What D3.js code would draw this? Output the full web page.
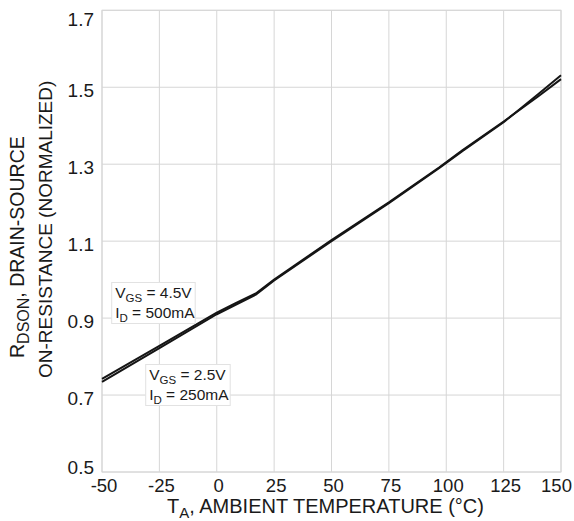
<!DOCTYPE html>
<html>
<head>
<meta charset="utf-8">
<script src="https://cdn.jsdelivr.net/npm/d3@7"></script>
<style>
  html, body { margin: 0; padding: 0; background: #fff; }
  svg { display: block; font-family: "Liberation Sans", Arial, Helvetica, sans-serif; }
</style>
</head>
<body>
<svg id="chart" width="574" height="521"></svg>
<script>
// Ambient temperature (°C) sample points
const temps = [-50, -25, 0, 8, 17, 25, 50, 75, 97, 107, 125, 140, 150];
// Normalized RDS(on), VGS = 4.5V, ID = 500mA
const rdsVgs45 = [0.742, 0.828, 0.914, 0.938, 0.964, 1.000, 1.103, 1.201, 1.292, 1.336, 1.411, 1.476, 1.521];
// Normalized RDS(on), VGS = 2.5V, ID = 250mA
const rdsVgs25 = [0.734, 0.822, 0.910, 0.934, 0.961, 0.998, 1.100, 1.199, 1.290, 1.334, 1.409, 1.482, 1.531];

const xTicks = [-50, -25, 0, 25, 50, 75, 100, 125, 150];
const yTicks = [0.5, 0.7, 0.9, 1.1, 1.3, 1.5, 1.7];

const svg = d3.select("#chart");
const plot = { left: 102, right: 561, top: 10.3, bottom: 472 };

const x = d3.scaleLinear().domain([-50, 150]).range([plot.left, plot.right]);
const y = d3.scaleLinear().domain([0.5, 1.7]).range([plot.bottom, plot.top]);

const gridColor = "#d6d6d6";
const textColor = "#1a1a1a";

// Grid
const grid = svg.append("g");
grid.selectAll("line.v").data(xTicks).enter().append("line")
  .attr("x1", d => x(d)).attr("x2", d => x(d))
  .attr("y1", plot.top).attr("y2", plot.bottom)
  .attr("stroke", gridColor).attr("stroke-width", 1);
grid.selectAll("line.h").data(yTicks).enter().append("line")
  .attr("y1", d => y(d)).attr("y2", d => y(d))
  .attr("x1", plot.left).attr("x2", plot.right)
  .attr("stroke", gridColor).attr("stroke-width", 1);

// Y axis labels
const yAxis = d3.axisLeft(y).tickValues(yTicks).tickFormat(d3.format(".1f")).tickSize(0).tickPadding(8);
const gy = svg.append("g").attr("transform", `translate(${plot.left},0)`).call(yAxis);
gy.select(".domain").remove();
gy.selectAll("text")
  .attr("font-size", 19).attr("fill", textColor)
  .attr("font-family", "Liberation Sans, Arial, sans-serif")
  .attr("dy", null)
  .attr("y", d => d === 1.7 ? 15 : (d === 0.5 ? 1 : 9));

// X axis labels
const xAxis = d3.axisBottom(x).tickValues(xTicks).tickFormat(d => String(d)).tickSize(0).tickPadding(0);
const gx = svg.append("g").attr("transform", `translate(0,${plot.bottom})`).call(xAxis);
gx.select(".domain").remove();
gx.selectAll("text")
  .attr("font-size", 18.5).attr("fill", textColor)
  .attr("font-family", "Liberation Sans, Arial, sans-serif")
  .attr("dy", null)
  .attr("y", 19.7)
  .attr("x", d => d === 150 ? -5 : 1.5);

// Plot frame
svg.append("rect")
  .attr("x", plot.left).attr("y", plot.top)
  .attr("width", plot.right - plot.left).attr("height", plot.bottom - plot.top)
  .attr("fill", "none").attr("stroke", gridColor).attr("stroke-width", 1);

// Annotation boxes
function annot(bx, by, bw, bh, vgs, id) {
  const g = svg.append("g");
  g.append("rect").attr("x", bx).attr("y", by).attr("width", bw).attr("height", bh)
    .attr("fill", "#fff").attr("stroke", "#e2e2e2").attr("stroke-width", 1);
  const t1 = g.append("text").attr("x", bx + 3.5).attr("y", by + 15.5)
    .attr("font-size", 15.5).attr("fill", textColor);
  t1.append("tspan").text("V");
  t1.append("tspan").attr("font-size", 11.5).attr("dy", 4).text("GS");
  t1.append("tspan").attr("dy", -4).text(" = " + vgs);
  const t2 = g.append("text").attr("x", bx + 3.5).attr("y", by + 35)
    .attr("font-size", 15.5).attr("fill", textColor);
  t2.append("tspan").text("I");
  t2.append("tspan").attr("font-size", 11.5).attr("dy", 4).text("D");
  t2.append("tspan").attr("dy", -4).text(" = " + id);
}

// Curves
const line = d3.line().x((d, i) => x(temps[i])).y(d => y(d));
[rdsVgs45, rdsVgs25].forEach(series => {
  svg.append("path").datum(series)
    .attr("d", line)
    .attr("fill", "none").attr("stroke", "#151515")
    .attr("stroke-width", 2).attr("stroke-linejoin", "round");
});

annot(111.7, 282.5, 83.5, 41, "4.5V", "500mA");
annot(145.7, 364.5, 84.5, 41, "2.5V", "250mA");

// Axis titles
const xt = svg.append("text").attr("x", 167).attr("y", 513.3)
  .attr("font-size", 20).attr("fill", textColor);
xt.append("tspan").text("T");
xt.append("tspan").attr("font-size", 15).attr("dy", 5).text("A");
xt.append("tspan").attr("dy", -5).text(", AMBIENT TEMPERATURE (°C)");

const yt1 = svg.append("text")
  .attr("transform", "translate(24,358) rotate(-90)")
  .attr("font-size", 19.5).attr("fill", textColor);
yt1.append("tspan").text("R");
yt1.append("tspan").attr("font-size", 16).attr("dy", 5).text("DSON");
yt1.append("tspan").attr("dy", -5).text(", DRAIN-SOURCE");

svg.append("text")
  .attr("transform", "translate(51.5,378) rotate(-90)")
  .attr("font-size", 19).attr("fill", textColor)
  .text("ON-RESISTANCE (NORMALIZED)");
</script>
</body>
</html>
